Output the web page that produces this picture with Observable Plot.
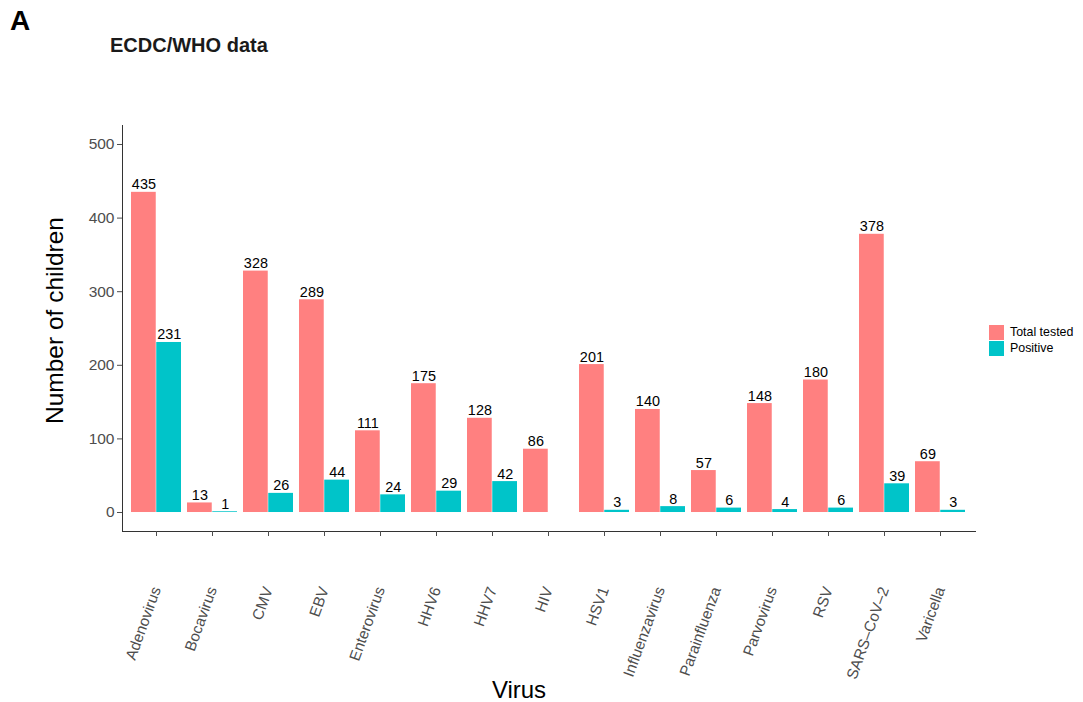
<!DOCTYPE html>
<html><head><meta charset="utf-8">
<script src="https://cdn.jsdelivr.net/npm/d3@7"></script>
<script src="https://cdn.jsdelivr.net/npm/@observablehq/plot@0.6"></script>
<style>
body{margin:0;background:#fff;font-family:"Liberation Sans",Arial,sans-serif;}
#wrap{position:relative;width:1083px;height:702px;overflow:hidden;}
#header{position:relative;height:70px;}
#panel{position:absolute;left:10px;top:5px;font-weight:bold;font-size:28px;color:#000;}
#title{position:absolute;left:110px;top:34px;font-weight:bold;font-size:20px;color:#1a1a1a;}
#legend{position:absolute;left:989px;top:324px;font-size:12.4px;color:#000;}
.row{display:flex;align-items:center;height:16px;}
.sw{width:15px;height:15px;margin-right:6px;}
</style></head>
<body><div id="wrap">
<div id="header"><div id="panel">A</div><div id="title">ECDC/WHO data</div></div>
<div id="chart"></div>
<div id="legend"></div>
</div>
<script>
const viruses = ["Adenovirus","Bocavirus","CMV","EBV","Enterovirus","HHV6","HHV7","HIV","HSV1","Influenzavirus","Parainfluenza","Parvovirus","RSV","SARS\u2013CoV\u20132","Varicella"];
const totalTested = [435,13,328,289,111,175,128,86,201,140,57,148,180,378,69];
const positive = [231,1,26,44,24,29,42,null,3,8,6,4,6,39,3];
const groups = ["Total tested","Positive"];
const colors = ["#FF8080","#00C4C9"];
const yTicks = [0,100,200,300,400,500];
const xTitle = "Virus";
const yTitle = "Number of children";

const W = 1083, H = 632, mL = 122, mR = 108, mT = 55, mB = 171;
const padIn = 0.1, padOut = 0.15;
const step = (W - mL - mR) / (viruses.length - padIn + 2 * padOut);
const half = step * (1 - padIn) / 2;

const totals = viruses.map((v,i)=>({virus:v, group:groups[0], value:totalTested[i]}));
const positives = viruses.map((v,i)=>({virus:v, group:groups[1], value:positive[i]})).filter(d=>d.value!=null);

const chart = Plot.plot({
  width:W, height:H,
  marginLeft:mL, marginRight:mR, marginTop:mT, marginBottom:mB,
  style:{fontFamily:"'Liberation Sans', Arial, sans-serif", background:"#fff"},
  x:{domain:viruses, type:"band", paddingInner:padIn, paddingOuter:padOut, label:null},
  y:{domain:[-25.8,525.8], label:null},
  color:{domain:groups, range:colors},
  marks:[
    Plot.barY(totals,{x:"virus", y:"value", fill:"group", insetLeft:0, insetRight:half}),
    Plot.barY(positives,{x:"virus", y:"value", fill:"group", insetLeft:half, insetRight:0}),
    Plot.text(totals,{x:"virus", y:"value", text:d=>String(d.value), dx:-half/2, lineAnchor:"bottom", dy:-3, fontSize:14.4, fill:"#000"}),
    Plot.text(positives,{x:"virus", y:"value", text:d=>String(d.value), dx:half/2, lineAnchor:"bottom", dy:-3, fontSize:14.4, fill:"#000"}),
    Plot.frame({anchor:"left", stroke:"#333"}),
    Plot.frame({anchor:"bottom", stroke:"#333"}),
    Plot.axisY({ticks:yTicks, tickSize:5, tickPadding:3, fontSize:15.5, color:"#4d4d4d", label:null}),
    Plot.axisX({anchor:"bottom", tickSize:5, tickRotate:-70, tickPadding:51, fontSize:15.3, color:"#4d4d4d", label:null}),
    Plot.text([xTitle],{frameAnchor:"bottom", text:d=>d, textAnchor:"middle", lineAnchor:"bottom", dx:-30, dy:166, fontSize:24, fill:"#000"}),
    Plot.text([yTitle],{frameAnchor:"left", text:d=>d, rotate:-90, textAnchor:"middle", lineAnchor:"top", dx:-77, dy:-8, fontSize:24.5, fill:"#000"})
  ]
});
document.getElementById("chart").appendChild(chart);

const lg = document.getElementById("legend");
groups.forEach((g,i)=>{
  const r = document.createElement("div"); r.className="row";
  const s = document.createElement("div"); s.className="sw"; s.style.background=colors[i];
  const t = document.createElement("span"); t.textContent=g;
  r.appendChild(s); r.appendChild(t); lg.appendChild(r);
});
</script>
</body></html>
